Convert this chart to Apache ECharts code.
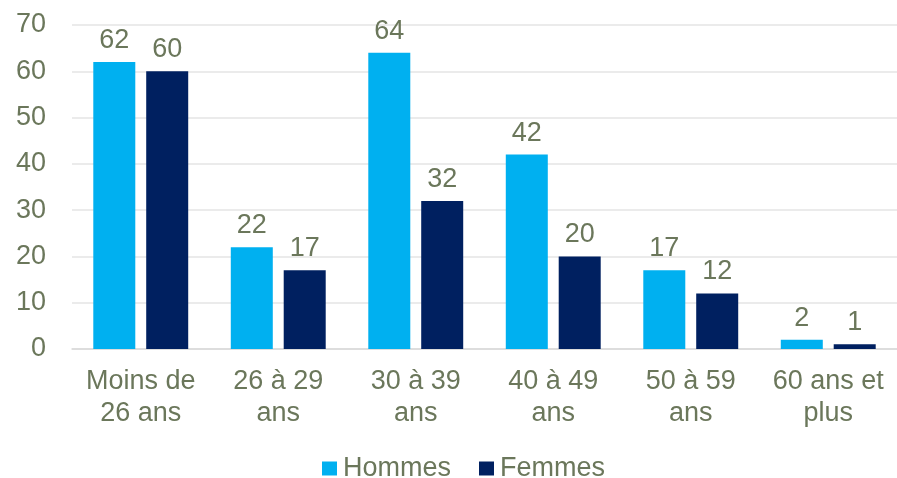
<!DOCTYPE html>
<html>
<head>
<meta charset="utf-8">
<script src="https://cdn.jsdelivr.net/npm/echarts@6/dist/echarts.min.js"></script>
<style>
  html, body { margin: 0; padding: 0; background: #fff; }
  #chart { width: 897px; height: 478px; }
</style>
</head>
<body>
<div id="chart"></div>
<script>
const categories = ['Moins de\n26 ans', '26 à 29\nans', '30 à 39\nans', '40 à 49\nans', '50 à 59\nans', '60 ans et\nplus'];
const hommes = [62, 22, 64, 42, 17, 2];
const femmes = [60, 17, 32, 20, 12, 1];
const yTicks = [0, 10, 20, 30, 40, 50, 60, 70];

const textColor = '#6b775b';
const font = 'Liberation Sans, Arial, sans-serif';
const fs = 27;

let myChart = echarts.init(document.getElementById('chart'));

const barLabel = {
    show: true,
    position: 'top',
    distance: 8,
    color: textColor,
    fontSize: fs,
    fontFamily: font
};

myChart.setOption({
    animation: false,
    grid: { left: 72, right: 0, top: 25, bottom: 129 },
    legend: {
        left: 322,
        top: 455,
        padding: 0,
        itemWidth: 15,
        itemHeight: 14,
        itemGap: 28,
        icon: 'rect',
        textStyle: { color: textColor, fontSize: fs, fontFamily: font, lineHeight: 24, padding: [0, 0, 0, 1] },
        data: ['Hommes', 'Femmes']
    },
    xAxis: {
        type: 'category',
        data: categories,
        axisTick: { show: false },
        axisLine: { lineStyle: { color: '#d9d9d9', width: 1.5 } },
        axisLabel: {
            color: textColor,
            fontSize: fs,
            fontFamily: font,
            lineHeight: 32,
            margin: 17,
            interval: 0
        }
    },
    yAxis: {
        type: 'value',
        min: yTicks[0],
        max: yTicks[yTicks.length - 1],
        interval: 10,
        axisLine: { show: false },
        axisTick: { show: false },
        splitLine: { lineStyle: { color: '#e4e4e4', width: 1.5 } },
        axisLabel: {
            color: textColor,
            fontSize: fs,
            fontFamily: font,
            margin: 26
        }
    },
    series: [
        {
            name: 'Hommes',
            type: 'bar',
            data: hommes,
            barWidth: 42,
            barGap: '26%',
            itemStyle: { color: '#00b0f0' },
            label: barLabel
        },
        {
            name: 'Femmes',
            type: 'bar',
            data: femmes,
            barWidth: 42,
            itemStyle: { color: '#002060' },
            label: barLabel
        }
    ]
});
</script>
</body>
</html>
